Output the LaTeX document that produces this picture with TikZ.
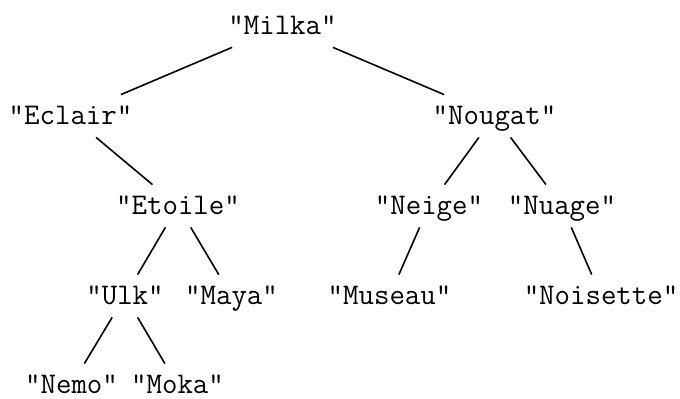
\documentclass[tikz,border=0pt]{standalone}
\usepackage{tikz}
\tikzstyle{Word} = [rectangle, inner xsep = 2pt, inner ysep = 6pt, text height = 9pt, text depth = 0pt, font = \fontsize{15}{18}\selectfont\ttfamily]
\tikzstyle{Link} = [line width = 0.8pt, black]

\begin{document}
\begin{tikzpicture}[x=0.5pt, y=-0.5pt]

    \useasboundingbox (0,0) rectangle (680,399);

    %%%%%%%%%%%%%%%%%%%%%%
    \node[Word] (milka) at (282.5, 26) {"Milka"};

    \node[Word] (eclair) at (70.5, 116) {"Eclair"};
    \node[Word] (nougat) at (494.5, 116) {"Nougat"};

    \node[Word] (etoile) at (178, 206) {"Etoile"};
    \node[Word] (neige) at (429, 206) {"Neige"};
    \node[Word] (nuage) at (562, 206) {"Nuage"};

    \node[Word] (ulk) at (125, 296) {"Ulk"};
    \node[Word] (maya) at (231.5, 296) {"Maya"};
    \node[Word] (museau) at (389.5, 296) {"Museau"};
    \node[Word] (noisette) at (601, 296) {"Noisette"};

    \node[Word] (nemo) at (71.5, 385) {"Nemo"};
    \node[Word] (moka) at (177.5, 385) {"Moka"};

    %%%%%%%%%%%%%%%%%%%%%%
    \draw[Link] (milka) to (eclair);
    \draw[Link] (milka) to (nougat);
    \draw[Link] (eclair) to (etoile);
    \draw[Link] (nougat) to (neige);
    \draw[Link] (nougat) to (nuage);
    \draw[Link] (etoile) to (ulk);
    \draw[Link] (etoile) to (maya);
    \draw[Link] (neige) to (museau);
    \draw[Link] (nuage) to (noisette);
    \draw[Link] (ulk) to (nemo);
    \draw[Link] (ulk) to (moka);

\end{tikzpicture}
\end{document}
